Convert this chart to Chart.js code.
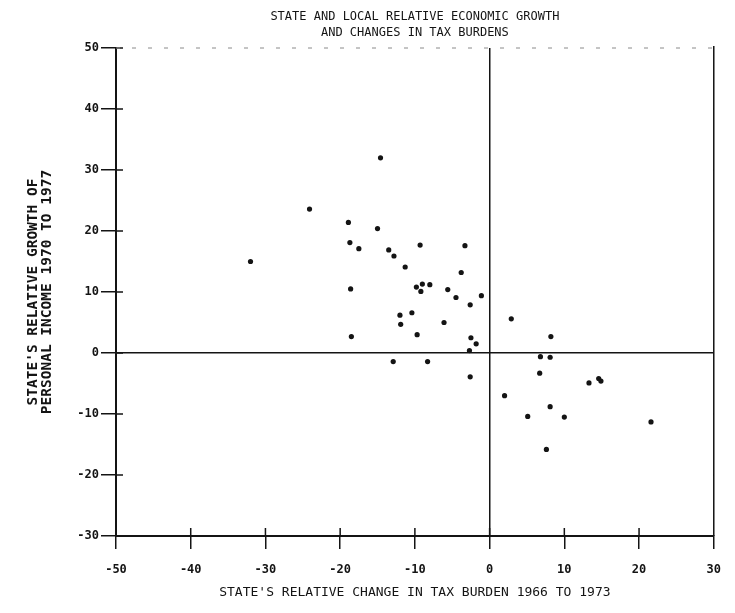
<!DOCTYPE html>
<html>

<head>
    <meta charset="utf-8">
    <script src="https://cdn.jsdelivr.net/npm/chart.js@4.4.0/dist/chart.umd.min.js"></script>
    <style>
        html, body {
            margin: 0;
            padding: 0;
            background: #fff;
        }

        #chart-container {
            width: 735px;
            height: 613px;
            position: relative;
        }
    </style>
</head>

<body>
    <div id="chart-container">
        <canvas id="taxChart"></canvas>
    </div>
    <script>
        // values
        const taxChange = [
            -14.6, -24.1, -18.9, -15.0, -18.7, -17.5, -13.5, -12.8, -9.3, -3.3,
            -32.0, -11.3, -3.8, -18.6, -9.8, -9.0, -8.0, -9.2, -5.6, -4.5,
            -1.1, -2.6, -12.0, -10.4, -11.9, -6.1, -18.5, -9.7, -2.5, -1.8,
            -2.7, -12.9, -8.3, -2.6, 2.9, 8.2, 6.8, 8.1, 6.7, 13.3,
            14.6, 14.9, 2.0, 8.1, 5.1, 10.0, 21.6, 7.6
        ];
        const incomeGrowth = [
            32.0, 23.6, 21.4, 20.4, 18.1, 17.1, 16.9, 15.9, 17.7, 17.6,
            15.0, 14.1, 13.2, 10.5, 10.8, 11.3, 11.2, 10.1, 10.4, 9.1,
            9.4, 7.9, 6.2, 6.6, 4.7, 5.0, 2.7, 3.0, 2.5, 1.5,
            0.4, -1.4, -1.4, -3.9, 5.6, 2.7, -0.6, -0.7, -3.3, -4.9,
            -4.2, -4.6, -7.0, -8.8, -10.4, -10.5, -11.3, -15.8
        ];
        const titleLines = ['STATE AND LOCAL RELATIVE ECONOMIC GROWTH', 'AND CHANGES IN TAX BURDENS'];
        const xTitle = "STATE'S RELATIVE CHANGE IN TAX BURDEN 1966 TO 1973";
        const yTitle = ["STATE'S RELATIVE GROWTH OF", 'PERSONAL INCOME 1970 TO 1977'];

        const ink = '#141414';
        const mono = "'DejaVu Sans Mono', 'Liberation Mono', monospace";

        // box on top/right and the short inner halves of the tick marks
        const frame = {
            id: 'frame',
            afterDatasetsDraw(chart) {
                const { ctx, chartArea: a, scales: { x, y } } = chart;
                ctx.save();
                ctx.strokeStyle = ink;
                ctx.lineWidth = 1.5;
                ctx.beginPath();
                x.ticks.forEach(t => {
                    const px = x.getPixelForValue(t.value);
                    ctx.moveTo(px, a.bottom);
                    ctx.lineTo(px, a.bottom - 8);
                });
                y.ticks.forEach(t => {
                    const py = y.getPixelForValue(t.value);
                    ctx.moveTo(a.left, py);
                    ctx.lineTo(a.left + 7, py);
                });
                ctx.moveTo(a.right, a.top - 2);
                ctx.lineTo(a.right, a.bottom);
                ctx.stroke();
                // the top edge is barely visible on the scan
                ctx.lineWidth = 1;
                ctx.strokeStyle = '#8a8a8a';
                ctx.setLineDash([4, 12]);
                ctx.beginPath();
                ctx.moveTo(a.left, a.top);
                ctx.lineTo(a.right, a.top);
                ctx.stroke();
                ctx.restore();
            }
        };

        const zeroLine = c => (c.tick && c.tick.value === 0) ? ink : 'rgba(0,0,0,0)';

        new Chart(document.getElementById('taxChart'), {
            type: 'scatter',
            data: {
                datasets: [{
                    data: taxChange.map((v, i) => ({ x: v, y: incomeGrowth[i] })),
                    backgroundColor: ink,
                    borderColor: ink,
                    pointRadius: 2.6,
                    pointBorderWidth: 0
                }]
            },
            options: {
                responsive: true,
                maintainAspectRatio: false,
                animation: false,
                layout: { padding: { left: 0, right: 15, top: 0, bottom: 0 } },
                plugins: {
                    legend: { display: false },
                    tooltip: { enabled: false },
                    title: {
                        display: true,
                        text: titleLines,
                        fullSize: false,
                        color: ink,
                        font: { family: mono, size: 12, weight: 'normal', lineHeight: 1.4 },
                        padding: { top: 8, bottom: 6.4 }
                    }
                },
                scales: {
                    x: {
                        type: 'linear',
                        min: -50,
                        max: 30,
                        afterFit: s => { s.height = 77; },
                        ticks: {
                            stepSize: 10,
                            color: ink,
                            padding: 14,
                            font: { family: mono, size: 12, weight: 'bold' }
                        },
                        grid: {
                            color: zeroLine,
                            lineWidth: 1.5,
                            tickColor: ink,
                            tickLength: 13
                        },
                        border: { color: ink, width: 2 },
                        title: {
                            display: true,
                            text: xTitle,
                            color: ink,
                            font: { family: mono, size: 13, weight: 'normal', lineHeight: 1.2 },
                            padding: { top: 0, bottom: 13 }
                        }
                    },
                    y: {
                        type: 'linear',
                        min: -30,
                        max: 50,
                        afterFit: s => { s.width = 116; },
                        ticks: {
                            stepSize: 10,
                            color: ink,
                            padding: 2,
                            font: { family: mono, size: 12, weight: 'bold' }
                        },
                        grid: {
                            color: zeroLine,
                            lineWidth: 1.5,
                            tickColor: ink,
                            tickLength: 15
                        },
                        border: { color: ink, width: 2 },
                        title: {
                            display: true,
                            text: yTitle,
                            color: ink,
                            font: { family: mono, size: 14.5, weight: 'bold', lineHeight: 0.97 },
                            padding: { top: 26, bottom: 0 }
                        }
                    }
                }
            },
            plugins: [frame]
        });
    </script>
</body>

</html>
